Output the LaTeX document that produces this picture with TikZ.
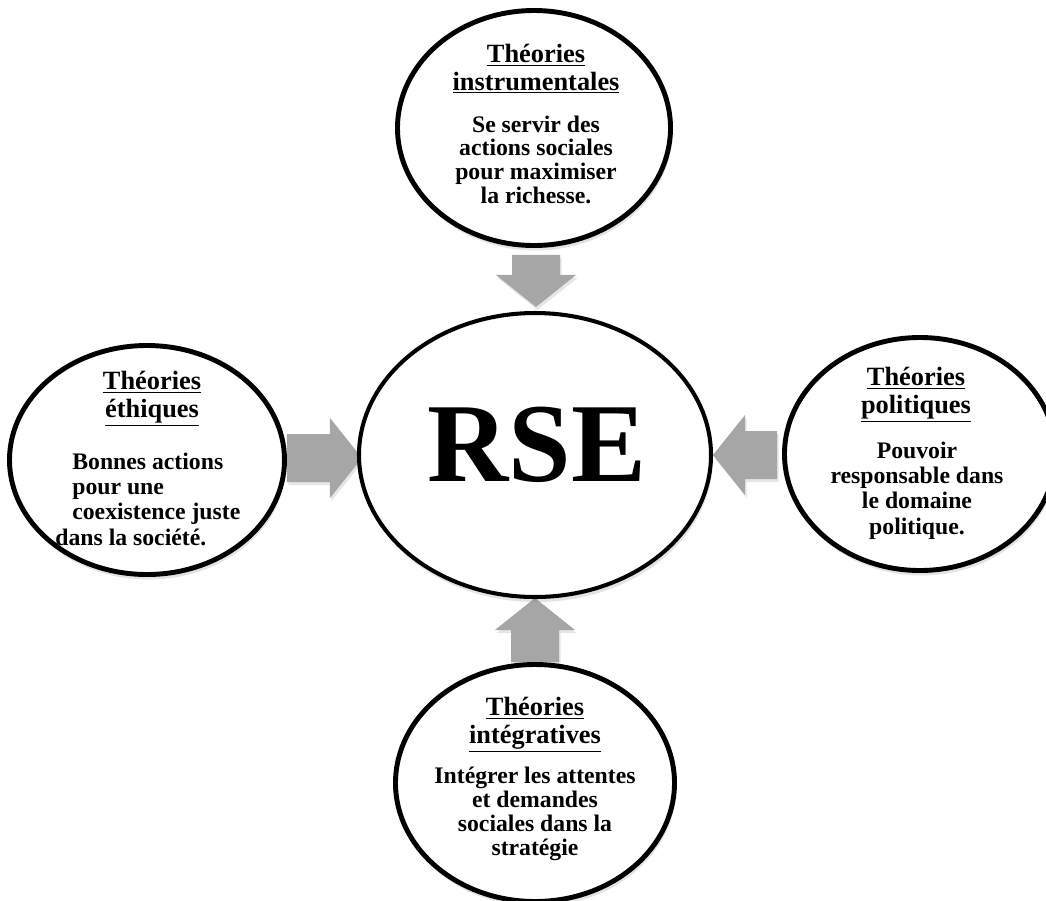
\documentclass[tikz,border=0pt]{standalone}
\usepackage{fontspec}
\setmainfont{Liberation Serif}
\usetikzlibrary{calc,shapes.geometric,shadows,backgrounds}
\definecolor{arrowgray}{RGB}{166,166,166}
\newcommand{\headline}[1]{\raisebox{0pt}[\height][0pt]{\underline{#1}}}
\tikzset{
  theory/.style={ellipse, draw, line width=2.8pt, fill=white, inner sep=0pt,
    drop shadow={opacity=0.22, shadow xshift=0.03cm, shadow yshift=-0.1cm}},
  head/.style={font=\fontsize{15}{15.5}\selectfont\bfseries, align=center, inner sep=0pt, anchor=base},
  body/.style={font=\fontsize{13.5}{14.3}\selectfont\bfseries, align=center, inner sep=0pt, anchor=base},
  blockarrow/.style={fill=arrowgray,
    drop shadow={opacity=0.2, shadow xshift=0.03cm, shadow yshift=-0.06cm}}
}

\begin{document}
\begin{tikzpicture}
            \useasboundingbox (0,0) rectangle (20.92,-18);
            \node[theory, line width=2.3pt, minimum width=7.04cm, minimum height=5.68cm] at (10.70,-9.10) (rse) {};
            \node[theory, minimum width=5.46cm, minimum height=4.70cm] at (10.68,-2.56) (inst) {};
            \node[theory, minimum width=5.50cm, minimum height=4.58cm] at (2.94,-9.20) (ethic) {};
            \node[theory, minimum width=5.42cm, minimum height=4.66cm] at (18.40,-9.08) (polit) {};
            \node[theory, minimum width=5.58cm, minimum height=4.74cm] at (10.70,-15.66) (integ) {};
            % start and tip of the block arrows
            \coordinate (i1) at ($(inst.south)+(0.04,-0.14)$);
            \coordinate (i2) at ($(rse.north)+(0.02,0.08)$);
            \coordinate (e1) at ($(ethic.east)+(0,0.04)$);
            \coordinate (e2) at ($(rse.west)+(0.10,-0.06)$);
            \coordinate (p1) at ($(polit.west)+(-0.10,-0.02)$);
            \coordinate (p2) at (rse.east);
            \coordinate (g1) at (integ.north);
            \coordinate (g2) at ($(rse.south)+(0,0.02)$);
            \begin{scope}[on background layer]
            \foreach \s/\t in {i1/i2,e1/e2,p1/p2,g1/g2}{
              \coordinate (hb) at ($(\t)!0.64cm!(\s)$);
              \fill[blockarrow] ($(\s)!0.48cm!90:(\t)$) -- ($(hb)!0.48cm!90:(\t)$)
                -- ($(hb)!0.8cm!90:(\t)$) -- (\t) -- ($(hb)!0.8cm!-90:(\t)$)
                -- ($(hb)!0.48cm!-90:(\t)$) -- ($(\s)!0.48cm!-90:(\t)$) -- cycle;
            }
            \end{scope}
            \node[font=\fontsize{64}{70}\selectfont\bfseries, inner sep=0pt] at ($(rse)+(0.04,0.20)$) (rse-t) {RSE};
            \node[head] at ($(inst)+(0.04,0.76)$) (inst-h) {\headline{Théories}\\\headline{instrumentales}};
            \node[body, font=\fontsize{13.5}{13.4}\selectfont\bfseries] at ($(inst)+(0.04,-1.50)$) (inst-b)
              {Se servir des\\actions sociales\\pour maximiser\\la richesse.};
            \node[head] at ($(ethic)+(0.10,0.86)$) (ethic-h) {\headline{Théories}\\\headline{éthiques}};
            \node[body, align=left, anchor=base west] at ($(ethic)+(-1.84,-1.70)$) (ethic-b)
              {\hspace*{0.34cm}Bonnes actions\\\hspace*{0.34cm}pour une\\\hspace*{0.34cm}coexistence juste\\dans la société.};
            \node[head] at ($(polit)+(-0.08,0.82)$) (polit-h) {\headline{Théories}\\\headline{politiques}};
            \node[body] at ($(polit)+(-0.06,-1.60)$) (polit-b) {Pouvoir\\responsable dans\\le domaine\\politique.};
            \node[head] at ($(integ)+(0,0.80)$) (integ-h) {\headline{Théories}\\\headline{intégratives}};
            \node[body, font=\fontsize{13.5}{13.6}\selectfont\bfseries] at ($(integ)+(0,-1.44)$) (integ-b)
              {Intégrer les attentes\\et demandes\\sociales dans la\\stratégie};
        \end{tikzpicture}
\end{document}
